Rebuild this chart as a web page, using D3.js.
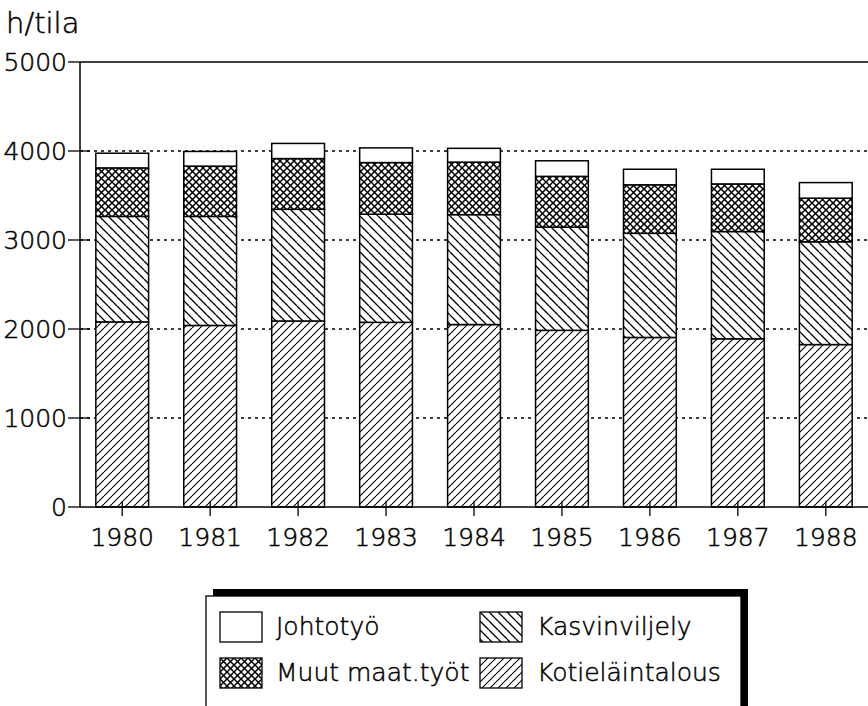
<!DOCTYPE html>
<html>
<head>
<meta charset="utf-8">
<script src="https://cdn.jsdelivr.net/npm/d3@7"></script>
<style>
  html, body { margin: 0; padding: 0; background: #fff; }
  svg { display: block; }
  text { font-family: 'DejaVu Sans', sans-serif; font-weight: 200; fill: #000; stroke: #000; stroke-width: 0.5px; }
</style>
</head>
<body>
<script>
const years = ['1980', '1981', '1982', '1983', '1984', '1985', '1986', '1987', '1988']
const kotielain = [2080, 2040, 2090, 2075, 2050, 1985, 1905, 1890, 1825]
const kasvinviljely = [1185, 1225, 1255, 1215, 1235, 1160, 1170, 1205, 1155]
const muutTyot = [545, 565, 570, 580, 590, 570, 545, 535, 490]
const johtotyo = [165, 165, 170, 165, 155, 175, 175, 165, 175]
const seriesNames = ['Kotieläintalous', 'Kasvinviljely', 'Muut maat.työt', 'Johtotyö']
const yTicks = [0, 1000, 2000, 3000, 4000, 5000]

const width = 868, height = 706
const mLeft = 80, mRight = 868, mTop = 62, mBottom = 507

const rows = years.map((yr, i) => ({
  year: yr,
  'Kotieläintalous': kotielain[i],
  'Kasvinviljely': kasvinviljely[i],
  'Muut maat.työt': muutTyot[i],
  'Johtotyö': johtotyo[i]
}))

const fills = {
  'Kotieläintalous': 'url(#slash)',
  'Kasvinviljely': 'url(#backslash)',
  'Muut maat.työt': 'url(#cross)',
  'Johtotyö': '#fff'
}

const x = d3.scaleBand().domain(years).range([mLeft, mRight]).paddingInner(0.4).paddingOuter(0.18)
const y = d3.scaleLinear().domain([0, 5000]).range([mBottom, mTop])

const svg = d3.select('body').append('svg')
  .attr('width', width)
  .attr('height', height)

// hatch patterns
const defs = svg.append('defs')
let hatch = (id, s, dirs, sw) => {
  let p = defs.append('pattern')
    .attr('id', id)
    .attr('patternUnits', 'userSpaceOnUse')
    .attr('width', s).attr('height', s)
  p.append('rect').attr('width', s).attr('height', s).attr('fill', '#fff')
  dirs.forEach(dir => {
    let d = dir === '/'
      ? `M${-s},${s} L0,0 M0,${s} L${s},0 M${s},${s} L${2 * s},0`
      : `M${-s},0 L0,${s} M0,0 L${s},${s} M${s},0 L${2 * s},${s}`
    p.append('path').attr('d', d).attr('stroke', '#000').attr('stroke-width', sw).attr('fill', 'none')
  })
}
hatch('slash', 8, ['/'], 1.1)
hatch('backslash', 9, ['\\'], 1.3)
hatch('cross', 7, ['/', '\\'], 1.5)

// grid lines
svg.append('g')
  .selectAll('line').data(yTicks.filter(t => t > 0 && t < 5000)).enter()
  .append('line')
  .attr('x1', mLeft).attr('x2', mRight)
  .attr('y1', d => y(d)).attr('y2', d => y(d))
  .attr('stroke', '#000')
  .attr('stroke-width', 1.3)
  .attr('stroke-dasharray', '3,4')

// top frame line
svg.append('line')
  .attr('x1', mLeft).attr('x2', mRight)
  .attr('y1', y(5000)).attr('y2', y(5000))
  .attr('stroke', '#000').attr('stroke-width', 1.5)

// stacked bars
const stack = d3.stack().keys(seriesNames)(rows)
svg.append('g')
  .selectAll('g').data(stack).enter()
  .append('g')
  .attr('fill', d => fills[d.key])
  .selectAll('rect').data(d => d).enter()
  .append('rect')
  .attr('x', d => x(d.data.year))
  .attr('width', x.bandwidth())
  .attr('y', d => y(d[1]))
  .attr('height', d => y(d[0]) - y(d[1]))
  .attr('stroke', '#000')
  .attr('stroke-width', 1.5)

// y axis
const yAxis = svg.append('g')
yAxis.append('line')
  .attr('x1', mLeft).attr('x2', mLeft)
  .attr('y1', y(5000)).attr('y2', y(0))
  .attr('stroke', '#000').attr('stroke-width', 1.5)
yAxis.selectAll('line.tick').data(yTicks).enter()
  .append('line')
  .attr('class', 'tick')
  .attr('x1', mLeft - 12).attr('x2', d => d === 0 || d === 5000 ? mLeft : mLeft + 10)
  .attr('y1', d => y(d)).attr('y2', d => y(d))
  .attr('stroke', '#000').attr('stroke-width', 1.3)
yAxis.selectAll('text').data(yTicks).enter()
  .append('text')
  .attr('x', mLeft - 13)
  .attr('y', d => y(d))
  .attr('dy', '0.36em')
  .attr('text-anchor', 'end')
  .style('font-size', '25px')
  .text(d => d)

svg.append('text')
  .attr('x', 6).attr('y', 33)
  .style('font-size', '29px')
  .text('h/tila')

// x axis
svg.append('line')
  .attr('x1', mLeft).attr('x2', mRight)
  .attr('y1', y(0)).attr('y2', y(0))
  .attr('stroke', '#000').attr('stroke-width', 1.5)
svg.append('g')
  .selectAll('line').data(years).enter()
  .append('line')
  .attr('x1', d => x(d) + x.bandwidth() / 2).attr('x2', d => x(d) + x.bandwidth() / 2)
  .attr('y1', y(0) - 6).attr('y2', y(0) + 9)
  .attr('stroke', '#000').attr('stroke-width', 1.3)
svg.append('g')
  .selectAll('text').data(years).enter()
  .append('text')
  .attr('x', d => x(d) + x.bandwidth() / 2)
  .attr('y', 546)
  .attr('text-anchor', 'middle')
  .style('font-size', '25px')
  .text(d => d)

// legend
const lg = svg.append('g')
lg.append('rect')
  .attr('x', 213).attr('y', 589).attr('width', 535).attr('height', 130)
  .attr('fill', '#000')
lg.append('rect')
  .attr('x', 206).attr('y', 596).attr('width', 535).attr('height', 130)
  .attr('fill', '#fff').attr('stroke', '#000').attr('stroke-width', 1.3)

const legendItems = [
  { name: 'Johtotyö', col: 0, row: 0 },
  { name: 'Kasvinviljely', col: 1, row: 0 },
  { name: 'Muut maat.työt', col: 0, row: 1 },
  { name: 'Kotieläintalous', col: 1, row: 1 }
]
const item = lg.selectAll('g.item').data(legendItems).enter()
  .append('g')
  .attr('class', 'item')
  .attr('transform', d => `translate(${d.col ? 480 : 220},${d.row ? 658 : 612})`)
item.append('rect')
  .attr('width', 42).attr('height', 30)
  .attr('fill', d => fills[d.name])
  .attr('stroke', '#000').attr('stroke-width', 1.3)
item.append('text')
  .attr('x', d => d.col ? 57 : 56)
  .attr('y', 23)
  .style('font-size', '25px')
  .text(d => d.name)
</script>
</body>
</html>
